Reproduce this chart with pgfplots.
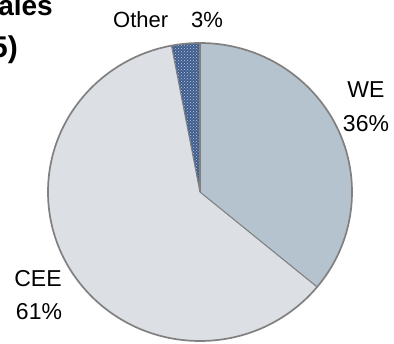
\documentclass[border=0pt]{standalone}
\usepackage{pgfplots}
\pgfplotsset{compat=1.18}
\usepackage{pgfplotstable}
\usepackage{fontspec}
\setmainfont{Liberation Sans}
\usetikzlibrary{patterns}

\definecolor{weFill}{RGB}{180,195,205}
\definecolor{ceeFill}{RGB}{220,224,229}
\definecolor{otherFill}{RGB}{62,92,142}
\definecolor{otherDots}{RGB}{190,205,226}
\definecolor{edgeGray}{RGB}{128,128,128}

% regional shares of sales, in %
\pgfplotstableread{
label share
WE    36
CEE   61
Other 3
}\sharetable

\begin{document}
\begin{tikzpicture}
\path[use as bounding box, clip] (0pt,0pt) rectangle (394pt,344pt);

\pgfplotstablegetelem{0}{share}\of\sharetable \let\sWE\pgfplotsretval
\pgfplotstablegetelem{1}{share}\of\sharetable \let\sCEE\pgfplotsretval
\pgfplotstablegetelem{2}{share}\of\sharetable \let\sOther\pgfplotsretval
% slices run clockwise from twelve o'clock
\pgfmathsetmacro\angA{90}
\pgfmathsetmacro\angB{\angA-3.6*\sWE}
\pgfmathsetmacro\angC{\angB-3.6*\sCEE}
\pgfmathsetmacro\angD{\angC-3.6*\sOther}

\begin{axis}[
  at={(0pt,0pt)}, anchor=south west,
  scale only axis, width=394pt, height=344pt,
  xmin=0, xmax=394, ymin=0, ymax=344,
  hide axis, clip=false,
]
% WE
\fill[weFill] (axis cs:200,152) -- ++(\angA:152pt and 149pt) arc[start angle=\angA, end angle=\angB, x radius=152pt, y radius=149pt] -- cycle;
% CEE
\fill[ceeFill] (axis cs:200,152) -- ++(\angB:152pt and 149pt) arc[start angle=\angB, end angle=\angC, x radius=152pt, y radius=149pt] -- cycle;
% Other, dotted
\fill[otherFill] (axis cs:200,152) -- ++(\angC:152pt and 149pt) arc[start angle=\angC, end angle=\angD, x radius=152pt, y radius=149pt] -- cycle;
\fill[pattern=crosshatch dots, pattern color=otherDots] (axis cs:200,152) -- ++(\angC:152pt and 149pt) arc[start angle=\angC, end angle=\angD, x radius=152pt, y radius=149pt] -- cycle;
% slice edges
\draw[edgeGray, line width=1.1pt] (axis cs:200,152) -- ++(\angA:152pt and 149pt);
\draw[edgeGray, line width=1.1pt] (axis cs:200,152) -- ++(\angB:152pt and 149pt);
\draw[edgeGray, line width=1.1pt] (axis cs:200,152) -- ++(\angC:152pt and 149pt);
\draw[edgeGray, line width=1.7pt] (axis cs:200,152) ellipse[x radius=152pt, y radius=149pt];

% labels
\node[anchor=base, font=\fontsize{23}{27}\selectfont] at (axis cs:366,246) {WE};
\node[anchor=base, font=\fontsize{23}{27}\selectfont] at (axis cs:366,212) {36\%};
\node[anchor=base, font=\fontsize{23}{27}\selectfont] at (axis cs:38,57) {CEE};
\node[anchor=base, font=\fontsize{23}{27}\selectfont] at (axis cs:39,24) {61\%};
\node[anchor=base west, inner sep=0pt, font=\fontsize{22}{26}\selectfont] at (axis cs:113,316) {Other};
\node[anchor=base west, inner sep=0pt, font=\fontsize{22}{26}\selectfont] at (axis cs:191,316) {3\%};

% heading
\node[anchor=base east, inner sep=0pt, font=\bfseries\fontsize{28}{32}\selectfont] at (axis cs:53,328.5) {Net sales};
\node[anchor=base east, inner sep=0pt, font=\bfseries\fontsize{30}{34}\selectfont] at (axis cs:18,286) {(2005)};
\end{axis}
\end{tikzpicture}
\end{document}
